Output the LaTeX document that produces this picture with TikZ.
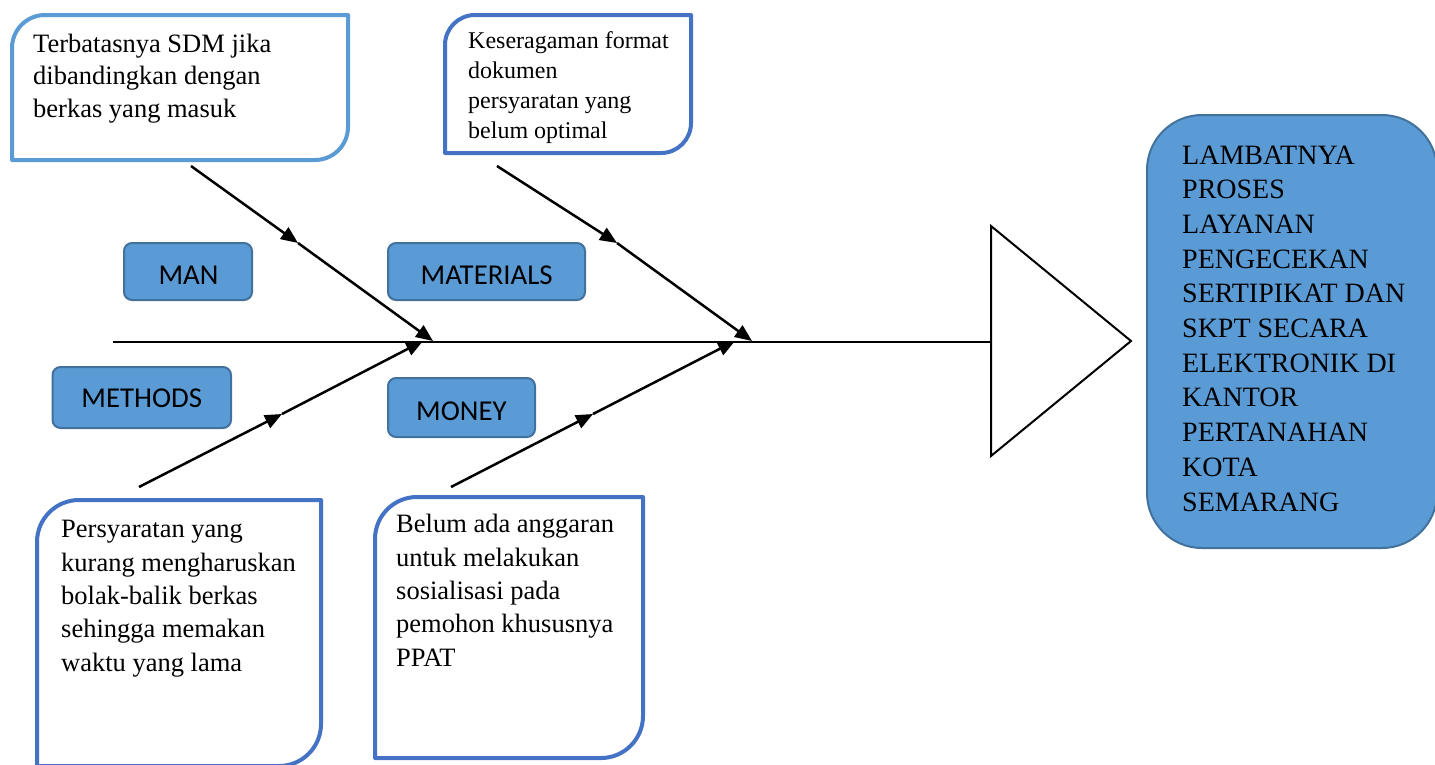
\documentclass[tikz,border=0pt]{standalone}
\usepackage{fontspec}
\setmainfont{Liberation Serif}
\newfontfamily\labfont{Carlito}
\usetikzlibrary{arrows.meta}
\definecolor{lblue}{HTML}{5B9BD5}
\definecolor{dblue}{HTML}{4472C4}
\definecolor{edgeblue}{HTML}{41719C}
\newcommand{\rdbox}[6]{%
  \draw[#1] (#2,#5) -- (#2,#3+#6) arc[start angle=180,end angle=270,radius=#6]
    -- (#4,#3) -- (#4,#5-#6) arc[start angle=0,end angle=90,radius=#6] -- cycle;}
\begin{document}
\begin{tikzpicture}[x=1pt,y=-1pt,
  causebox/.style={line width=4pt, line join=round, fill=white},
  lbox/.style={rectangle, rounded corners=8pt, fill=lblue, draw=edgeblue, line width=2pt, inner sep=0pt},
  ltext/.style={inner sep=0pt, font=\labfont\fontsize{28.8}{34}\selectfont},
  ctext/.style={inner sep=0pt, anchor=base west, align=left},
  bone/.style={line width=2.5pt, -{Triangle[length=17pt,width=14pt]}},
  plain/.style={line width=2.5pt},
  effect/.style={rectangle, rounded corners=55pt, fill=lblue, draw=edgeblue, line width=2pt, inner sep=0pt}]
\useasboundingbox (0,0) rectangle (1435,764);

% cause boxes
\rdbox{causebox, draw=lblue}{12}{15}{348}{160}{33}
\rdbox{causebox, draw=dblue}{445}{15}{691}{153}{30}
\rdbox{causebox, draw=dblue}{37}{500}{321}{766}{42}
\rdbox{causebox, draw=dblue}{375}{497}{643}{758}{42}

% (anchor = baseline of the last line)
\node[ctext, font=\fontsize{26.5}{32.5}\selectfont] (t1) at (33,117)
  {Terbatasnya SDM jika\\dibandingkan dengan\\berkas yang masuk};
\node[ctext, font=\fontsize{24}{30}\selectfont] (t2) at (468,138)
  {Keseragaman format\\dokumen\\persyaratan yang\\belum optimal};
\node[ctext, font=\fontsize{26.5}{33.3}\selectfont] (t3) at (61,671)
  {Persyaratan yang\\kurang mengharuskan\\bolak-balik berkas\\sehingga memakan\\waktu yang lama};
\node[ctext, font=\fontsize{26.5}{33.3}\selectfont] (t4) at (396,666)
  {Belum ada anggaran\\untuk melakukan\\sosialisasi pada\\pemohon khususnya\\PPAT};

% category labels
\node[lbox, minimum width=128pt, minimum height=57pt] (manbox) at (188,271.5) {};
\node[ltext] (man) at (188.5,275.5) {MAN};
\node[lbox, minimum width=197pt, minimum height=57pt] (matbox) at (486.5,271.5) {};
\node[ltext] (mat) at (486.7,275.5) {MATERIALS};
\node[lbox, minimum width=178.5pt, minimum height=61pt] (methbox) at (141.75,397.5) {};
\node[ltext] (meth) at (141.8,398.5) {METHODS};
\node[lbox, minimum width=147pt, minimum height=59pt] (monbox) at (461.5,407.5) {};
\node[ltext] (mon) at (461.4,410.8) {MONEY};

% spine and head
\coordinate (spineL) at (113,342);
\coordinate (spineR) at (991,342);
\coordinate (triT) at (991,226);
\coordinate (triB) at (991,456);
\coordinate (triA) at (1131,341);
\draw[plain] (spineL) -- (spineR);
\draw[line width=2pt, line join=miter] (triT) -- (triA) -- (triB) -- cycle;

% bones
\coordinate (b1s) at (191,166); \coordinate (b1m) at (298,243); \coordinate (b1e) at (433,341);
\coordinate (b2s) at (497,166); \coordinate (b2m) at (617,243); \coordinate (b2e) at (752,341);
\coordinate (b3s) at (139,487); \coordinate (b3m) at (282,414); \coordinate (b3e) at (423,341);
\coordinate (b4s) at (451,487); \coordinate (b4m) at (593,414); \coordinate (b4e) at (735,341);
\foreach \b in {b1,b2,b3,b4} {
  \draw[bone] (\b s) -- (\b m);
  \draw[bone] (\b m) -- (\b e);
}

% effect
\node[effect, minimum width=290pt, minimum height=433pt] (effbox) at (1292,331.5) {};
\node[ctext, font=\fontsize{28}{34.7}\selectfont] (eff) at (1182,511)
  {LAMBATNYA\\PROSES\\LAYANAN\\PENGECEKAN\\SERTIPIKAT DAN\\SKPT SECARA\\ELEKTRONIK DI\\KANTOR\\PERTANAHAN\\KOTA\\SEMARANG};
\end{tikzpicture}
\end{document}
